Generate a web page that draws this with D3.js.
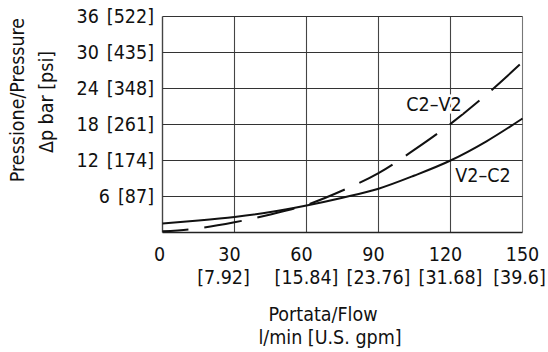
<!DOCTYPE html>
<html><head><meta charset="utf-8">
<script src="https://cdn.jsdelivr.net/npm/d3@7"></script>
<style>
body{margin:0;background:#fff;}
svg text{font-family:"DejaVu Sans Condensed","DejaVu Sans",sans-serif;font-stretch:condensed;fill:#111;}
</style></head>
<body><svg id="c" width="548" height="352"></svg>
<script>
const flow = [0, 15, 30, 45, 60, 75, 90, 105, 120, 135, 150];
const v2c2 = [1.5, 2.0, 2.6, 3.4, 4.5, 5.8, 7.3, 9.5, 12.0, 15.2, 19.0];
const c2v2 = [0.2, 0.7, 1.7, 3.0, 4.6, 7.0, 9.9, 13.8, 18.1, 23.0, 28.4];
const xTicks = [0, 30, 60, 90, 120, 150];
const xTickGpm = ["", "[7.92]", "[15.84]", "[23.76]", "[31.68]", "[39.6]"];
const yTicks = [6, 12, 18, 24, 30, 36];
const yTickPsi = ["[87]", "[174]", "[261]", "[348]", "[435]", "[522]"];

const FS = 19.5;
const svg = d3.select("#c");
const L = 162.5, R = 522.5, T = 16.5, B = 232.5;
const x = d3.scaleLinear().domain([0, 150]).range([L, R]);
const y = d3.scaleLinear().domain([0, 36]).range([B, T]);

// grid
const g = svg.append("g");
g.selectAll("line.v").data(xTicks).enter().append("line")
  .attr("x1", d => x(d)).attr("x2", d => x(d)).attr("y1", T).attr("y2", B)
  .attr("stroke", d => d === 150 ? "#777" : "#444").attr("stroke-width", d => d === 0 ? 1.4 : 1.1);
g.selectAll("line.h").data([0].concat(yTicks)).enter().append("line")
  .attr("x1", L).attr("x2", R).attr("y1", d => y(d)).attr("y2", d => y(d))
  .attr("stroke", d => d === 0 ? "#222" : "#333").attr("stroke-width", d => d === 0 ? 1.4 : 1.1);

// y tick labels
const yt = svg.selectAll("text.yt").data(yTicks).enter().append("text")
  .attr("x", 154).attr("y", d => y(d)).attr("dy", "0.35em")
  .attr("text-anchor", "end").attr("font-size", FS);
yt.append("tspan").text(d => d);
yt.append("tspan").attr("dx", 8).text((d, i) => yTickPsi[i]);

// x tick labels
svg.selectAll("text.xt").data(xTicks).enter().append("text")
  .attr("x", d => x(d) - (d === 0 ? 3 : d === 150 ? 0 : 5)).attr("y", 261)
  .attr("text-anchor", "middle").attr("font-size", FS)
  .text(d => d);
svg.selectAll("text.xg").data(xTicks).enter().append("text")
  .attr("x", (d, i) => x(d) + (i === 1 ? -11 : i === 5 ? -3 : 0)).attr("y", 284)
  .attr("text-anchor", "middle").attr("font-size", FS)
  .text((d, i) => xTickGpm[i]);

// axis titles
svg.append("text").attr("x", 323).attr("y", 321).attr("text-anchor", "middle").attr("font-size", FS).text("Portata/Flow");
svg.append("text").attr("x", 330).attr("y", 344).attr("text-anchor", "middle").attr("font-size", FS).text("l/min [U.S. gpm]");
svg.append("text").attr("transform", "translate(24,100) rotate(-90)").attr("text-anchor", "middle").attr("font-size", FS).text("Pressione/Pressure");
svg.append("text").attr("transform", "translate(53,102) rotate(-90)").attr("text-anchor", "middle").attr("font-size", FS).text("Δp bar [psi]");

// curves
const line = d3.line().x((d, i) => x(flow[i])).y(d => y(d)).curve(d3.curveMonotoneX);
svg.append("path").attr("d", line(v2c2)).attr("fill", "none").attr("stroke", "#111").attr("stroke-width", 2);
svg.append("path").attr("d", line(c2v2)).attr("fill", "none").attr("stroke", "#111").attr("stroke-width", 2)
  .attr("stroke-dasharray", "38,16").attr("stroke-dashoffset", 12);

// labels
svg.append("text").attr("x", 434).attr("y", 111).attr("text-anchor", "middle").attr("font-size", FS)
  .attr("stroke", "#fff").attr("stroke-width", 5).attr("paint-order", "stroke").text("C2–V2");
svg.append("text").attr("x", 483).attr("y", 182).attr("text-anchor", "middle").attr("font-size", FS).text("V2–C2");
</script></body></html>
